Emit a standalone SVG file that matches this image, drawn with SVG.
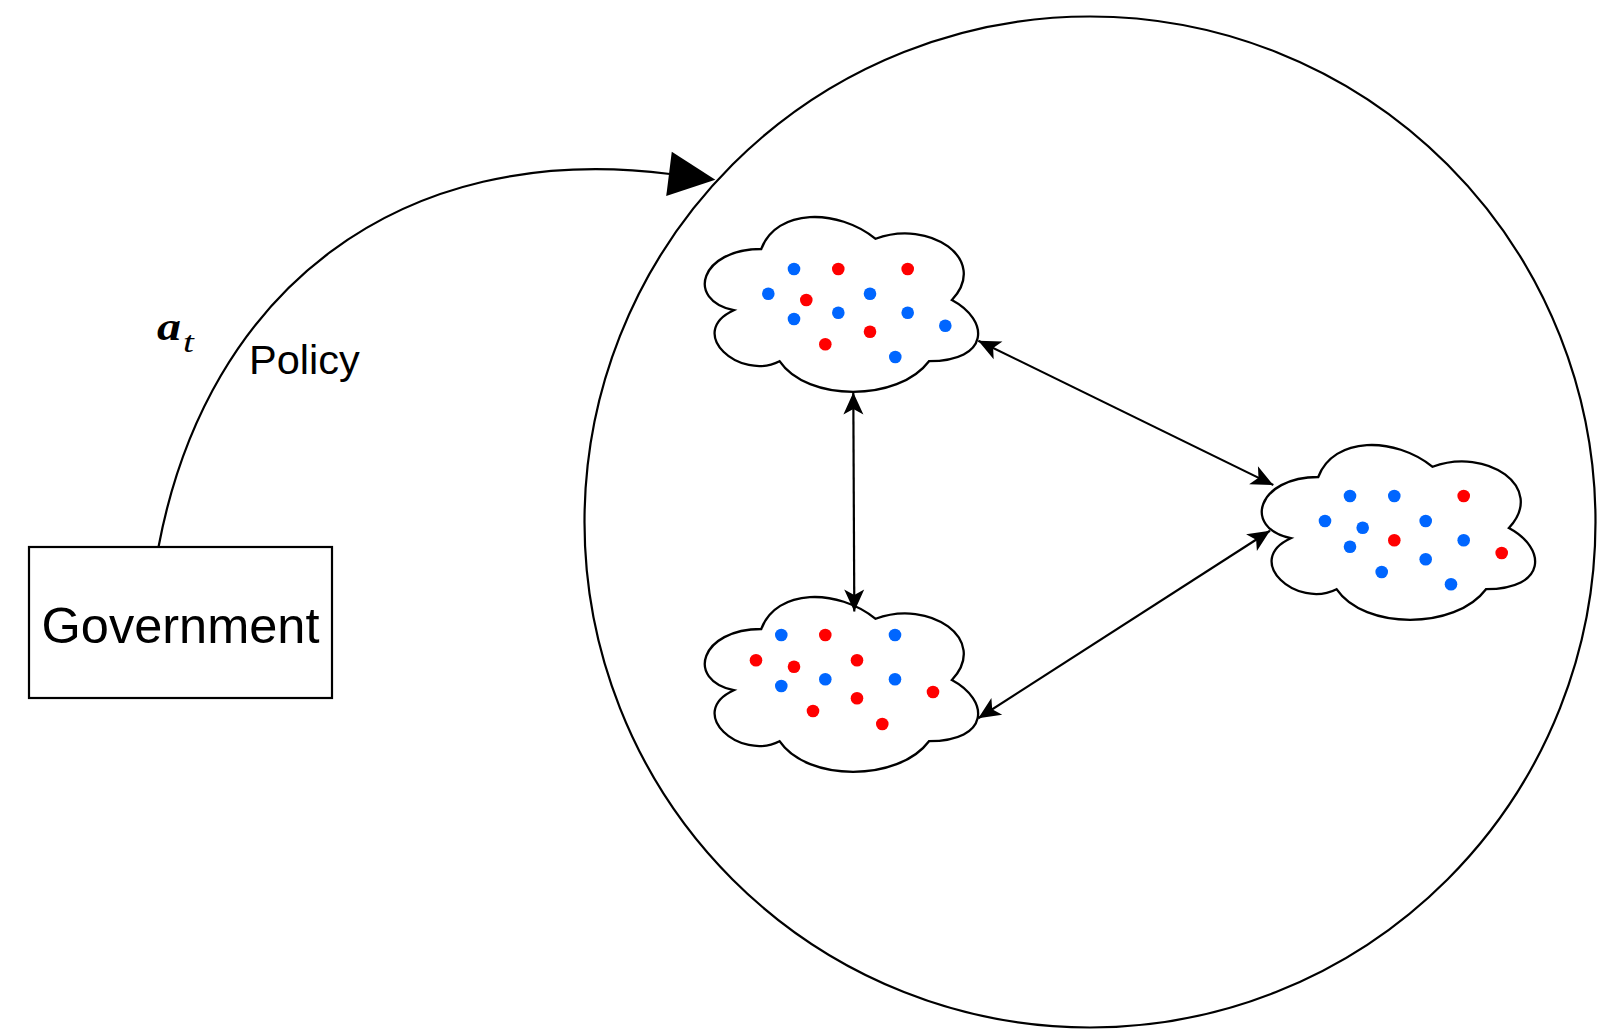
<svg xmlns="http://www.w3.org/2000/svg" width="1600" height="1033" viewBox="0 0 1600 1033">
<style>
.cloud{fill:#fff;stroke:#000;stroke-width:2.3}
.b{fill:#0066ff}
.r{fill:#ff0000}
.conn{fill:none;stroke:#000;stroke-width:2.2}
.lbl{font-family:"Liberation Sans",Arial,sans-serif;fill:#000}
.math{font-family:"Liberation Serif","Times New Roman",serif;font-style:italic;fill:#000}
</style>
<defs>
<path id="cloudShape" d="M76.25,51 C15.25,51 0,102 48.8,112.2 C0,134.64 54.9,183.6 94.55,163.2 C122,204 213.5,204 244,163.2 C305,163.2 305,122.4 266.88,102 C305,61.2 244,20.4 190.63,40.8 C152.5,10.2 91.5,10.2 76.25,51 Z"/>
<marker id="arr" markerUnits="userSpaceOnUse" markerWidth="22" markerHeight="20" refX="22" refY="10" orient="auto-start-reverse" overflow="visible">
<path d="M0,0 L22,10 L0,20 L5.5,10 Z" fill="#000"/>
</marker>
<marker id="bigArr" markerUnits="userSpaceOnUse" markerWidth="47" markerHeight="45" refX="1" refY="22.3" orient="auto" overflow="visible">
<path d="M0,0 L46.7,22.3 L0,44.6 Z" fill="#000"/>
</marker>
</defs>
<rect width="1600" height="1033" fill="#fff"/>

<g id="world">
<circle cx="1090" cy="522" r="505.5" fill="none" stroke="#000" stroke-width="2.2"/>
</g>

<g id="government">
<rect x="29" y="547" width="303" height="151" fill="#fff" stroke="#000" stroke-width="2.2"/>
<text class="lbl" x="180.5" y="643" font-size="50.5" text-anchor="middle">Government</text>
</g>

<g id="cloud1">
<use href="#cloudShape" class="cloud" transform="translate(685,198)"/>
<circle class="b" cx="794" cy="269" r="6.3"/>
<circle class="r" cx="838.3" cy="269" r="6.3"/>
<circle class="r" cx="907.7" cy="269" r="6.3"/>
<circle class="b" cx="768.3" cy="293.7" r="6.3"/>
<circle class="r" cx="806.3" cy="300" r="6.3"/>
<circle class="b" cx="870" cy="293.7" r="6.3"/>
<circle class="b" cx="794" cy="319" r="6.3"/>
<circle class="b" cx="838.3" cy="312.7" r="6.3"/>
<circle class="b" cx="907.7" cy="312.7" r="6.3"/>
<circle class="b" cx="945.3" cy="325.7" r="6.3"/>
<circle class="r" cx="870" cy="331.7" r="6.3"/>
<circle class="r" cx="825.3" cy="344.3" r="6.3"/>
<circle class="b" cx="895.3" cy="357" r="6.3"/>
</g>

<g id="cloud2">
<use href="#cloudShape" class="cloud" transform="translate(1242,426)"/>
<circle class="b" cx="1350" cy="496" r="6.3"/>
<circle class="b" cx="1394.3" cy="496" r="6.3"/>
<circle class="r" cx="1463.7" cy="496" r="6.3"/>
<circle class="b" cx="1325" cy="521" r="6.3"/>
<circle class="b" cx="1362.7" cy="527.7" r="6.3"/>
<circle class="b" cx="1425.7" cy="521" r="6.3"/>
<circle class="b" cx="1350" cy="546.7" r="6.3"/>
<circle class="r" cx="1394.3" cy="540.3" r="6.3"/>
<circle class="b" cx="1463.7" cy="540.3" r="6.3"/>
<circle class="r" cx="1501.7" cy="553" r="6.3"/>
<circle class="b" cx="1425.7" cy="559.3" r="6.3"/>
<circle class="b" cx="1381.7" cy="572" r="6.3"/>
<circle class="b" cx="1451" cy="584.3" r="6.3"/>
</g>

<g id="cloud3">
<use href="#cloudShape" class="cloud" transform="translate(685,578)"/>
<circle class="b" cx="781.3" cy="635" r="6.3"/>
<circle class="r" cx="825.3" cy="635" r="6.3"/>
<circle class="b" cx="895" cy="635" r="6.3"/>
<circle class="r" cx="756" cy="660.3" r="6.3"/>
<circle class="r" cx="794" cy="666.7" r="6.3"/>
<circle class="r" cx="857" cy="660.3" r="6.3"/>
<circle class="b" cx="781.3" cy="686" r="6.3"/>
<circle class="b" cx="825.3" cy="679.3" r="6.3"/>
<circle class="b" cx="895" cy="679.3" r="6.3"/>
<circle class="r" cx="933" cy="692" r="6.3"/>
<circle class="r" cx="857" cy="698.3" r="6.3"/>
<circle class="r" cx="813" cy="711" r="6.3"/>
<circle class="r" cx="882.3" cy="724" r="6.3"/>
</g>

<g id="connectors">
<path class="conn" d="M158.5,547 C207,290 400,140 670,174" stroke-width="2" marker-end="url(#bigArr)"/>
<line class="conn" x1="853.3" y1="392.5" x2="854.3" y2="611.5" marker-start="url(#arr)" marker-end="url(#arr)"/>
<line class="conn" x1="978.3" y1="340.7" x2="1273.3" y2="485" marker-start="url(#arr)" marker-end="url(#arr)"/>
<line class="conn" x1="978.3" y1="718.3" x2="1270" y2="530.7" marker-start="url(#arr)" marker-end="url(#arr)"/>
</g>

<g id="labels">
<text class="math" font-weight="bold" font-size="40" transform="translate(157,340) scale(1.2,1)">a</text>
<text class="math" font-size="30" transform="translate(183,352) scale(1.3,1)">t</text>
<text class="lbl" x="249" y="374" font-size="41.5">Policy</text>
</g>
</svg>
